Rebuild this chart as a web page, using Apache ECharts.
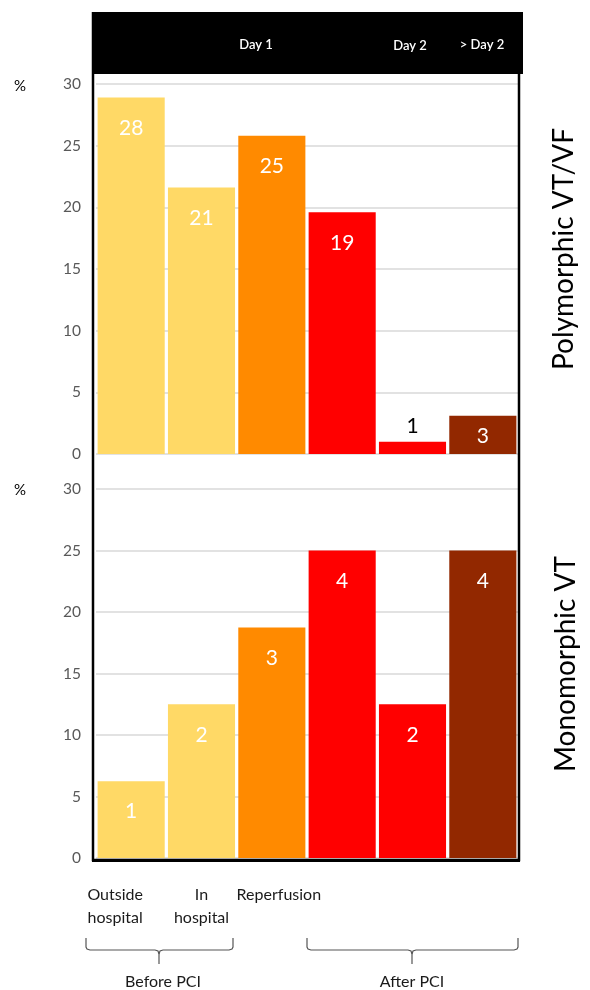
<!DOCTYPE html>
<html>
<head>
<meta charset="utf-8">
<script src="https://cdn.jsdelivr.net/npm/echarts@6/dist/echarts.min.js"></script>
<style>
html,body{margin:0;padding:0;background:#fff;}
#chart{width:590px;height:990px;}
</style>
</head>
<body>
<div id="chart"></div>
<script>
// ---- data ----
var categories = ['Outside\nhospital', 'In\nhospital', 'Reperfusion', '', '', ''];
var headerLabels = ['Day 1', 'Day 2', '> Day 2'];
var groupLabels = ['Before PCI', 'After PCI'];
var polyPercent = [28.9, 21.6, 25.8, 19.6, 1.0, 3.1];
var polyCounts = [28, 21, 25, 19, 1, 3];
var monoPercent = [6.25, 12.5, 18.75, 25, 12.5, 25];
var monoCounts = [1, 2, 3, 4, 2, 4];
var yTicks = [0, 5, 10, 15, 20, 25, 30];
var panelTitles = ['Polymorphic VT/VF', 'Monomorphic VT'];
var barColors = ['#FFD966', '#FFD966', '#FF8A00', '#FF0000', '#FF0000', '#922800'];

var FONT = 'Lato';
var chart = echarts.init(document.getElementById('chart'), null, {renderer: 'canvas'});

// per-bar label overrides (top panel: small bars)
var polyLabelOverrides = [null, null, null, null,
  {position: 'top', distance: 5, color: '#000'},
  {position: 'insideTop', distance: 10}];

function buildData(values, overrides) {
  return values.map(function (v, i) {
    var item = {value: v, itemStyle: {color: barColors[i]}};
    if (overrides && overrides[i]) item.label = overrides[i];
    return item;
  });
}

var yAxisBase = {
  type: 'value', min: yTicks[0], max: yTicks[yTicks.length - 1], interval: 5,
  axisLine: {show: false}, axisTick: {show: false},
  axisLabel: {color: '#595959', fontSize: 15.5, fontFamily: FONT, margin: 15},
  splitLine: {show: true, lineStyle: {color: '#D9D9D9', width: 1.5}}
};

var labelBase = {
  show: true, position: 'insideTop', distance: 20, color: '#fff',
  fontSize: 21, fontFamily: FONT
};

function brace(x1, xm, x2) {
  return [
    {type: 'polyline', shape: {points: [[x1, 938], [x1, 947], [x1 + 1, 949], [x1 + 4, 950], [xm - 4, 950], [xm - 1, 951], [xm, 954], [xm, 964]]},
     style: {stroke: '#555', lineWidth: 1.2, fill: null}},
    {type: 'polyline', shape: {points: [[xm, 954], [xm + 1, 951], [xm + 4, 950], [x2 - 4, 950], [x2 - 1, 949], [x2, 947], [x2, 938]]},
     style: {stroke: '#555', lineWidth: 1.2, fill: null}}
  ];
}

var TITLE_FONT = '28px ' + FONT;
var graphics = [
  // header band
  {type: 'rect', shape: {x: 93, y: 12, width: 430, height: 62}, style: {fill: '#000'}, z: 10},
  {type: 'text', x: 256, y: 45, z: 11, style: {text: headerLabels[0], fill: '#fff', font: '600 13px ' + FONT, textAlign: 'center', textVerticalAlign: 'middle'}},
  {type: 'text', x: 410, y: 46, z: 11, style: {text: headerLabels[1], fill: '#fff', font: '600 13px ' + FONT, textAlign: 'center', textVerticalAlign: 'middle'}},
  {type: 'text', x: 482, y: 45, z: 11, style: {text: headerLabels[2], fill: '#fff', font: '600 13px ' + FONT, textAlign: 'center', textVerticalAlign: 'middle'}},
  // frame
  {type: 'polyline', z: 12, shape: {points: [[93, 12], [93, 860], [519, 860], [519, 74]]},
   style: {stroke: '#000', lineWidth: 2.5, fill: null}},
  {type: 'line', z: 12, shape: {x1: 92, y1: 861, x2: 520, y2: 861}, style: {stroke: '#000', lineWidth: 2}},
  // percent signs
  {type: 'text', x: 20, y: 86, style: {text: '%', fill: '#000', font: '15px ' + FONT, textAlign: 'center', textVerticalAlign: 'middle'}},
  {type: 'text', x: 20, y: 490, style: {text: '%', fill: '#000', font: '15px ' + FONT, textAlign: 'center', textVerticalAlign: 'middle'}},
  // panel titles
  {type: 'text', x: 564, y: 249, rotation: Math.PI / 2,
   style: {text: panelTitles[0], fill: '#000', font: TITLE_FONT, textAlign: 'center', textVerticalAlign: 'middle'}},
  {type: 'text', x: 566, y: 664, rotation: Math.PI / 2,
   style: {text: panelTitles[1], fill: '#000', font: TITLE_FONT, textAlign: 'center', textVerticalAlign: 'middle'}},
  {type: 'text', x: 163, y: 982, style: {text: groupLabels[0], fill: '#1a1a1a', font: '16px ' + FONT, textAlign: 'center', textVerticalAlign: 'middle'}},
  {type: 'text', x: 412, y: 982, style: {text: groupLabels[1], fill: '#1a1a1a', font: '16px ' + FONT, textAlign: 'center', textVerticalAlign: 'middle'}}
].concat(brace(86, 159, 233)).concat(brace(307, 412, 518));

var pads = [[0, 32, 0, 0], [0, 0, 0, 0], [0, 0, 0, 14], [0, 0, 0, 0], [0, 0, 0, 0], [0, 0, 0, 0]];

var option = {
  animation: false,
  backgroundColor: '#fff',
  grid: [
    {left: 96, right: 72, top: 84, height: 370},
    {left: 96, right: 72, top: 489, height: 369}
  ],
  xAxis: [
    {type: 'category', gridIndex: 0, data: categories,
     axisLine: {show: false}, axisTick: {show: false}, axisLabel: {show: false}},
    {type: 'category', gridIndex: 1,
     data: categories.map(function (c, i) { return {value: c, textStyle: {padding: pads[i]}}; }),
     axisLine: {show: false}, axisTick: {show: false},
     axisLabel: {show: true, color: '#1a1a1a', fontSize: 16, fontFamily: FONT,
                 lineHeight: 23, margin: 25, interval: 0, align: 'center'}}
  ],
  yAxis: [
    Object.assign({gridIndex: 0}, yAxisBase),
    Object.assign({gridIndex: 1}, yAxisBase)
  ],
  series: [
    {type: 'bar', xAxisIndex: 0, yAxisIndex: 0, barWidth: '95.4%',
     data: buildData(polyPercent, polyLabelOverrides),
     label: Object.assign({}, labelBase, {formatter: function (p) { return polyCounts[p.dataIndex]; }})},
    {type: 'bar', xAxisIndex: 1, yAxisIndex: 1, barWidth: '95.4%',
     data: buildData(monoPercent, null),
     label: Object.assign({}, labelBase, {formatter: function (p) { return monoCounts[p.dataIndex]; }})}
  ],
  graphic: graphics
};
chart.setOption(option);
</script>
</body>
</html>
